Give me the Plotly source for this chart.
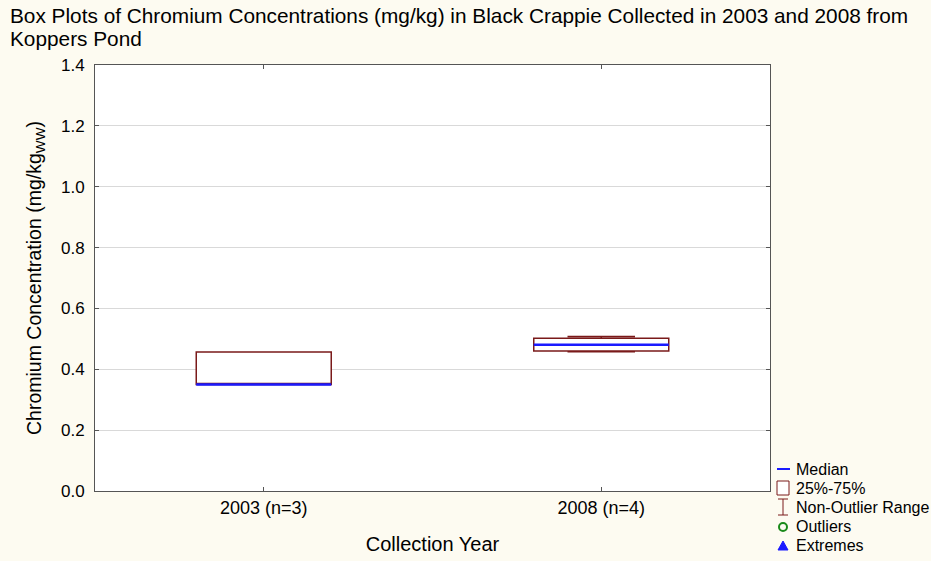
import plotly.graph_objects as go

categories = ["2003 (n=3)", "2008 (n=4)"]
q1 = [0.35, 0.46]
median = [0.35, 0.481]
q3 = [0.457, 0.502]
lower = [0.35, 0.458]
upper = [0.457, 0.508]
legend_labels = ["Median", "25%-75%", "Non-Outlier Range", "Outliers", "Extremes"]

xpos = list(range(len(categories)))
box_width = 0.4
brown = "#7a1a1a"
blue = "#1a1aff"
green = "#1a8a1a"

fig = go.Figure()
for i, c in enumerate(categories):
    fig.add_trace(go.Box(
        x=[xpos[i]], q1=[q1[i]], median=[median[i]], q3=[q3[i]],
        lowerfence=[lower[i]], upperfence=[upper[i]],
        width=box_width, whiskerwidth=0.5,
        line=dict(color=brown, width=1.5), fillcolor="white",
        showlegend=False, hoverinfo="skip"))
    fig.add_trace(go.Scatter(
        x=[xpos[i] - box_width / 2, xpos[i] + box_width / 2],
        y=[median[i], median[i]], mode="lines",
        line=dict(color=blue, width=2.5), showlegend=False, hoverinfo="skip"))

font = "Liberation Sans, Arial, sans-serif"

# plot area in pixels: x 95..770, y 65..491
PL, PR, PT, PB = 95, 770, 65, 491
def px(x):
    return (x - PL) / (PR - PL)
def py(y):
    return (PB - y) / (PB - PT)

title_lines = ["Box Plots of Chromium Concentrations (mg/kg) in Black Crappie Collected in 2003 and 2008 from",
               "Koppers Pond"]
for k, line in enumerate(title_lines):
    fig.add_annotation(text=line, xref="paper", yref="paper",
                       x=px(8), y=py(2 + 23 * k),
                       xanchor="left", yanchor="top", align="left",
                       showarrow=False, font=dict(size=20.8, family=font, color="black"))

# custom legend (key glyphs + labels)
leg_y0, leg_dy, key_x, text_x = 469, 19, 783, 794
for k, lab in enumerate(legend_labels):
    yc = leg_y0 + k * leg_dy
    fig.add_annotation(text=lab, xref="paper", yref="paper", x=px(text_x), y=py(yc),
                       xanchor="left", yanchor="middle", showarrow=False,
                       font=dict(size=16, family=font, color="black"))
    if k == 0:
        fig.add_shape(type="line", xref="paper", yref="paper",
                      x0=px(key_x - 6), x1=px(key_x + 7), y0=py(yc), y1=py(yc),
                      line=dict(color=blue, width=2))
    elif k == 1:
        fig.add_shape(type="rect", xref="paper", yref="paper",
                      x0=px(key_x - 6), x1=px(key_x + 6), y0=py(yc - 7), y1=py(yc + 7),
                      line=dict(color=brown, width=1), fillcolor="white")
    elif k == 2:
        for (xa, ya, xb, yb) in [(key_x, yc - 8, key_x, yc + 8),
                                 (key_x - 5, yc - 8, key_x + 5, yc - 8),
                                 (key_x - 5, yc + 8, key_x + 5, yc + 8)]:
            fig.add_shape(type="line", xref="paper", yref="paper",
                          x0=px(xa), x1=px(xb), y0=py(ya), y1=py(yb),
                          line=dict(color=brown, width=1))
    elif k == 3:
        fig.add_shape(type="circle", xref="paper", yref="paper",
                      x0=px(key_x - 4), x1=px(key_x + 4), y0=py(yc - 3), y1=py(yc + 5),
                      line=dict(color=green, width=2))
    else:
        fig.add_shape(type="path", xref="paper", yref="paper",
                      path=f"M {px(key_x - 5)} {py(yc + 5)} L {px(key_x + 5)} {py(yc + 5)} L {px(key_x)} {py(yc - 4)} Z",
                      line=dict(color=blue, width=1), fillcolor=blue)

fig.update_layout(
    width=931, height=561,
    margin=dict(l=PL, r=931 - PR, t=PT, b=561 - PB, autoexpand=False),
    paper_bgcolor="#fdfbf1",
    plot_bgcolor="white",
    showlegend=False,
    font=dict(family=font, color="black", size=17),
    xaxis=dict(range=[-0.5, 1.5], tickvals=xpos, ticktext=categories,
               showgrid=False, zeroline=False, showline=True, linecolor="#555",
               linewidth=1, mirror="ticks", ticks="inside", ticklen=4, tickcolor="#555",
               title=dict(text="Collection Year", font=dict(size=20), standoff=20),
               tickfont=dict(size=18)),
    yaxis=dict(range=[0, 1.4], dtick=0.2, tickformat=".1f",
               showgrid=True, gridcolor="#d9d9d9", gridwidth=1, zeroline=False,
               showline=True, linecolor="#555", linewidth=1, mirror="ticks",
               ticks="inside", ticklen=4, tickcolor="#555", ticklabelstandoff=6,
               title=dict(text="Chromium Concentration (mg/kg<sub>WW</sub>)", font=dict(size=19.5), standoff=14),
               tickfont=dict(size=17)),
)

fig.write_html("out.html", config={"displayModeBar": False},
               post_script="document.body.style.margin='0';document.body.style.background='#fdfbf1';")
